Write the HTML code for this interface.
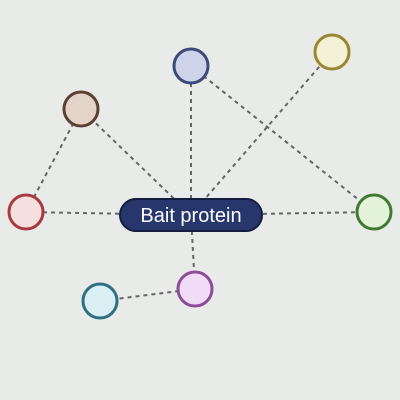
<!DOCTYPE html>
<html><head><meta charset="utf-8"><style>
html,body{margin:0;padding:0;background:#e9ebe8;}
svg{display:block;}
</style></head><body>
<svg width="400" height="400" viewBox="0 0 400 400">
<rect width="400" height="400" fill="#e9ebe8"/>
<g id="edges"></g>
<g id="nodes"></g>
<g>
<rect x="120" y="199" width="142" height="32" rx="16" fill="#27376b" stroke="#141d40" stroke-width="2"/>
<text x="191" y="222" text-anchor="middle" font-family="Liberation Sans, sans-serif" font-size="20" fill="#ffffff">Bait protein</text>
</g>
</svg>
<script>
const nodeNames=['bait','blue','yellow','brown','red','green','purple','teal'];
const nodeX=[191,191,332,81,26,374,195,100];
const nodeY=[215,66,52,109,212,212,289,301];
const nodeFill=['#27376b','#cfd3ea','#f3f2d6','#e3d3c9','#f5dfdf','#e3f4db','#f0dcf7','#d9eff4'];
const nodeStroke=['#141d40','#3b4a7a','#9a8530','#5c4033','#a83a3f','#3f7a30','#8b4c9a','#2f6f82'];
const edgeFrom=[0,0,0,0,0,0,1,3,6];
const edgeTo=[1,2,3,4,5,6,5,4,7];
const NS='http://www.w3.org/2000/svg';
const eg=document.getElementById('edges'),ng=document.getElementById('nodes');
for(let i=0;i<edgeFrom.length;i++){
 const l=document.createElementNS(NS,'line');
 l.setAttribute('x1',nodeX[edgeFrom[i]]);l.setAttribute('y1',nodeY[edgeFrom[i]]);
 l.setAttribute('x2',nodeX[edgeTo[i]]);l.setAttribute('y2',nodeY[edgeTo[i]]);
 l.setAttribute('stroke','#666');l.setAttribute('stroke-width','2');l.setAttribute('stroke-dasharray','4,4');
 
 
 eg.appendChild(l);
}
for(let i=1;i<nodeNames.length;i++){
 const c=document.createElementNS(NS,'circle');
 c.setAttribute('cx',nodeX[i]);c.setAttribute('cy',nodeY[i]);c.setAttribute('r',17);
 c.setAttribute('fill',nodeFill[i]);c.setAttribute('stroke',nodeStroke[i]);c.setAttribute('stroke-width','3');
 
 
 ng.appendChild(c);
}
</script>
</body></html>
